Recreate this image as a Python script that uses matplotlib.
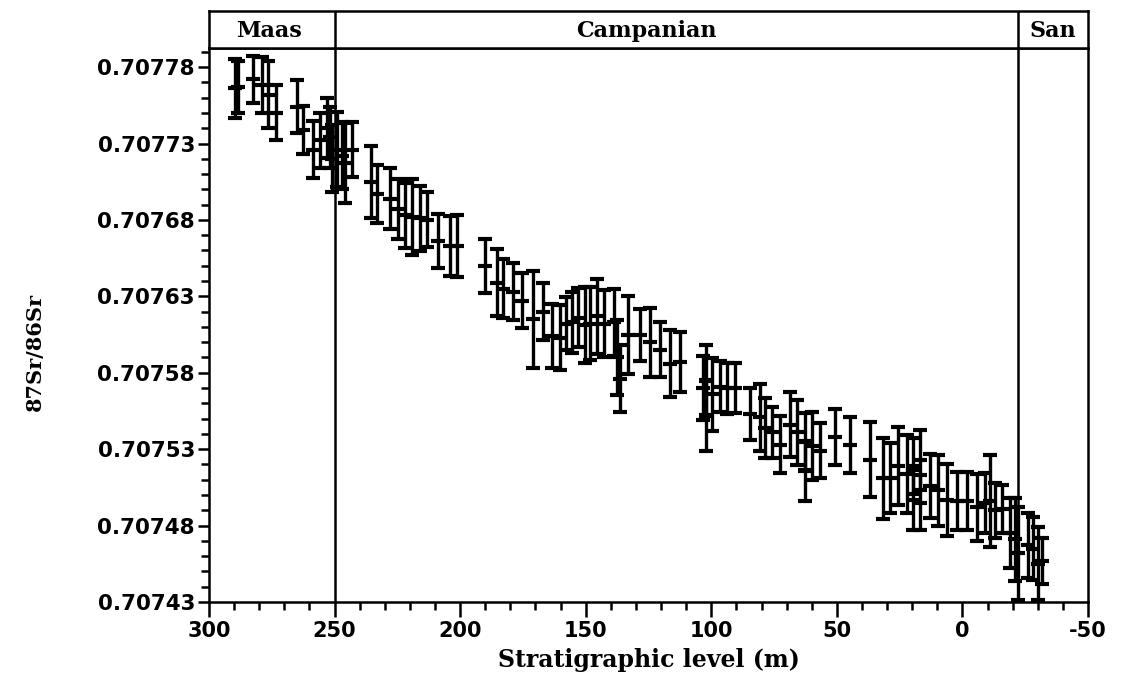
import matplotlib
matplotlib.use("Agg")
import matplotlib.pyplot as plt
from matplotlib.ticker import MultipleLocator, FixedLocator
import numpy as np

# Stratigraphic level (m)
level = [289.6, 288.5, 282.5, 278.9, 276.5, 273.3, 265.0, 262.6, 258.6, 255.8,
         253.0, 251.8, 251.0, 249.0, 247.0, 245.8, 243.0,
         235.5, 233.1, 227.9, 224.7, 221.9, 219.2, 216.0, 213.2, 208.8, 204.0,
         201.2, 190.1, 185.3, 182.9, 178.9, 175.4, 171.0, 167.0, 163.4, 160.2,
         157.8, 155.4, 153.0, 150.3, 148.3, 145.5, 142.7, 138.7, 137.5, 136.3,
         133.1, 128.4, 124.4, 120.4, 116.4, 112.4, 103.3, 102.1, 102.1, 99.7,
         96.5, 93.7, 90.5, 84.5, 80.6, 78.6, 75.8, 72.6, 68.6, 65.8, 62.6, 62.6,
         59.9, 56.7, 50.7, 44.7, 36.8, 31.6, 28.8, 25.6, 22.0, 19.6, 19.6, 16.8,
         16.8, 12.9, 9.7, 6.1, 2.1, -1.9, -5.9, -9.0, -11.0, -13.0, -15.8, -19.0,
         -21.0, -22.2, -26.2, -28.2, -30.1, -31.7]

# 87Sr/86Sr ratio
ratio = [0.707766, 0.707767, 0.707772, 0.707768, 0.707762, 0.707750, 0.707754,
         0.707739, 0.707726, 0.707732, 0.707740, 0.707734, 0.707720, 0.707726,
         0.707722, 0.707717, 0.707726,
         0.707705, 0.707697, 0.707694, 0.707687, 0.707683, 0.707682, 0.707681,
         0.707680, 0.707666, 0.707663, 0.707663, 0.707650, 0.707639, 0.707635,
         0.707633, 0.707627, 0.707615, 0.707620, 0.707604, 0.707603, 0.707612,
         0.707613, 0.707616, 0.707611, 0.707612, 0.707617, 0.707612, 0.707613,
         0.707590, 0.707576, 0.707605, 0.707605, 0.707600, 0.707595, 0.707586,
         0.707587, 0.707570, 0.707575, 0.707552, 0.707566, 0.707571, 0.707570,
         0.707570, 0.707553, 0.707551, 0.707544, 0.707541, 0.707533, 0.707546,
         0.707541, 0.707535, 0.707516, 0.707532, 0.707529, 0.707538, 0.707533,
         0.707523, 0.707511, 0.707511, 0.707519, 0.707514, 0.707519, 0.707497,
         0.707523, 0.707495, 0.707506, 0.707503, 0.707497, 0.707496, 0.707496,
         0.707492, 0.707495, 0.707496, 0.707490, 0.707491, 0.707475, 0.707471,
         0.707462, 0.707467, 0.707465, 0.707455, 0.707457]

# 2-sigma uncertainty
err = [0.0000196, 0.0000170, 0.0000153, 0.0000183, 0.0000219, 0.0000180,
       0.0000173, 0.0000157, 0.0000186, 0.0000180, 0.0000196, 0.0000200,
       0.0000220, 0.0000245, 0.0000220, 0.0000261, 0.0000180,
       0.0000235, 0.0000189, 0.0000199, 0.0000196, 0.0000212, 0.0000251,
       0.0000212, 0.0000180, 0.0000176, 0.0000196, 0.0000202, 0.0000176,
       0.0000219, 0.0000193, 0.0000186, 0.0000180, 0.0000317, 0.0000186,
       0.0000212, 0.0000212, 0.0000173, 0.0000199, 0.0000193, 0.0000248,
       0.0000238, 0.0000245, 0.0000219, 0.0000219, 0.0000245, 0.0000219,
       0.0000255, 0.0000170, 0.0000225, 0.0000180, 0.0000219, 0.0000196,
       0.0000212, 0.0000229, 0.0000229, 0.0000238, 0.0000170, 0.0000167,
       0.0000163, 0.0000170, 0.0000219, 0.0000196, 0.0000167, 0.0000189,
       0.0000212, 0.0000212, 0.0000186, 0.0000196, 0.0000222, 0.0000180,
       0.0000186, 0.0000183, 0.0000245, 0.0000265, 0.0000229, 0.0000255,
       0.0000255, 0.0000186, 0.0000196, 0.0000196, 0.0000180, 0.0000209,
       0.0000235, 0.0000235, 0.0000189, 0.0000189, 0.0000219, 0.0000196,
       0.0000300, 0.0000180, 0.0000157, 0.0000229, 0.0000271, 0.0000304,
       0.0000212, 0.0000206, 0.0000238, 0.0000150]

stage_names = ["Maas", "Campanian", "San"]
stage_bounds = [(300, 250), (250, -22), (-22, -50)]
stage_label_x = [276, 126, -36]

ytick_vals = [0.70743, 0.70748, 0.70753, 0.70758, 0.70763, 0.70768, 0.70773, 0.70778]
xtick_vals = [300, 250, 200, 150, 100, 50, 0, -50]

W, H = 1132, 694
fig = plt.figure(figsize=(W / 100, H / 100), dpi=100)
left, right = 209 / W, 1088 / W
bot, mid, top = 1 - 602 / H, 1 - 48 / H, 1 - 11 / H
ax = fig.add_axes([left, bot, right - left, mid - bot])
axb = fig.add_axes([left, mid, right - left, top - mid], sharex=ax)

ax.errorbar(level, ratio, yerr=err, fmt="_", color="black", ecolor="black",
            elinewidth=2.4, capsize=5, capthick=3.0, markersize=10, mew=3.0)

ax.set_xlim(300, -50)
ax.set_ylim(0.70743, 0.7077925)

for b in [250, -22]:
    ax.axvline(b, color="black", lw=1.8)
    axb.axvline(b, color="black", lw=1.8)

ax.yaxis.set_major_locator(FixedLocator(ytick_vals))
ax.yaxis.set_minor_locator(MultipleLocator(0.00001))
ax.xaxis.set_major_locator(FixedLocator(xtick_vals))
ax.xaxis.set_minor_locator(MultipleLocator(10))
ax.set_yticklabels([f"{v:.5f}" for v in ytick_vals])
ax.set_xticklabels([str(v) for v in xtick_vals])

ax.tick_params(axis="y", which="major", direction="out", length=8, width=1.8,
               labelsize=15.5, pad=2)
ax.tick_params(axis="y", which="minor", direction="out", length=6, width=1.8)
ax.tick_params(axis="x", which="major", direction="out", length=11, width=1.8,
               labelsize=15, pad=3)
ax.tick_params(axis="x", which="minor", direction="out", length=6, width=1.8)
for lab in ax.get_xticklabels() + ax.get_yticklabels():
    lab.set_fontweight("bold")
    lab.set_family("DejaVu Sans")

for s in ax.spines.values():
    s.set_linewidth(1.8)
for s in axb.spines.values():
    s.set_linewidth(1.8)

axb.set_ylim(0, 1)
axb.tick_params(axis="both", which="both", left=False, bottom=False, top=False,
                right=False, labelleft=False, labelbottom=False)
for name, lx in zip(stage_names, stage_label_x):
    axb.text(lx, 0.45, name, ha="center", va="center", fontsize=16,
             family="DejaVu Serif", fontweight="bold")

ax.set_xlabel("Stratigraphic level (m)", fontsize=17, family="DejaVu Serif",
              fontweight="bold", labelpad=5)
fig.text(35 / W, 1 - 352 / H, "87Sr/86Sr", rotation=90, ha="center", va="center",
         fontsize=15, family="DejaVu Serif", fontweight="bold")

fig.savefig("out.png", dpi=100)
